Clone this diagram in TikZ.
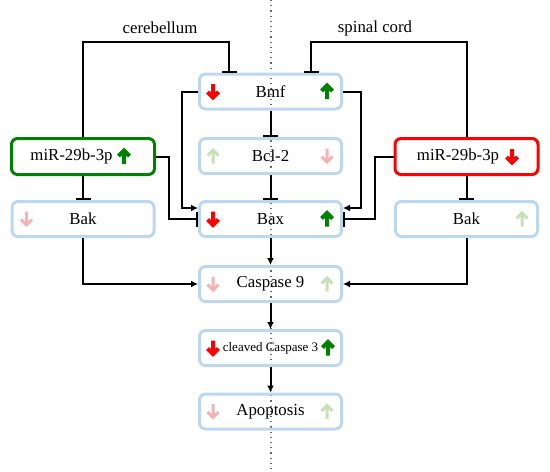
\documentclass[tikz,border=0pt]{standalone}
\usepackage{fontspec}
\setmainfont{Liberation Serif}
\usetikzlibrary{arrows.meta,calc}
\definecolor{BoxBlue}{RGB}{189,215,238}
\definecolor{UpGreen}{RGB}{0,128,0}
\definecolor{DownRed}{RGB}{255,0,0}
\definecolor{FaintGreen}{RGB}{200,224,184}
\definecolor{FaintRed}{RGB}{243,180,180}
\tikzset{
  protbox/.style={draw=BoxBlue,line width=1.5pt,rounded corners=3pt,minimum width=71pt,minimum height=17.5pt,inner sep=0pt},
  mirbox/.style={line width=1.5pt,rounded corners=3pt,minimum width=71.5pt,minimum height=18pt,inner sep=0pt},
  link/.style={line width=1pt,black},
  act/.style={link,-{Latex[length=3.5pt,width=3.5pt]}},
  inh/.style={link,-{Bar[width=7.5pt]}},
  uparr/.pic={\draw[pic actions] (0,7.5) -- (0,-5.5) (-5.5,-0.5) -- (0,-6) -- (5.5,-0.5);},
  dnarr/.pic={\draw[pic actions] (0,-7.5) -- (0,5.5) (-5.5,0.5) -- (0,6) -- (5.5,0.5);},
  hi/.style={draw=UpGreen,line width=2pt},
  lo/.style={draw=DownRed,line width=2pt},
  fainthi/.style={draw=FaintGreen,line width=1.5pt},
  faintlo/.style={draw=FaintRed,line width=1.5pt},
}
\begin{document}
\begin{tikzpicture}[x=0.5pt,y=-0.5pt,font=\fontsize{8.4}{10}\selectfont]
  \useasboundingbox (0,0) rectangle (550,471);
  \draw[dotted,black!60,line width=0.6pt] (271,0) -- (271,471);
  \node[protbox] (bmf) at (270.5,91.5) {Bmf};
  \node[protbox] (bcl) at (270.5,156) {Bcl-2};
  \node[protbox] (bax) at (270.5,219) {Bax};
  \node[protbox] (casp) at (270.5,284) {Caspase 9};
  \node[protbox,font=\fontsize{6.5}{8}\selectfont] (clv) at (270.5,348) {cleaved Caspase 3};
  \node[protbox] (apo) at (270.5,411.5) {Apoptosis};
  \node[mirbox,draw=UpGreen] (mirL) at (83,156.5) {miR-29b-3p\kern11.5pt};
  \node[protbox] (bakL) at (83,219) {Bak};
  \node[mirbox,draw=DownRed] (mirR) at (466.5,156.5) {miR-29b-3p\kern8.5pt};
  \node[protbox] (bakR) at (466.5,219) {Bak};
  \node (cer) at (160,28) {cerebellum};
  \node (spc) at (375,28) {spinal cord};
  \pic[lo] at ($(bmf.west)+(15,0)$) {dnarr};
  \pic[hi] at ($(bmf.east)+(-16,0)$) {uparr};
  \pic[fainthi] at ($(bcl.west)+(15,0)$) {uparr};
  \pic[faintlo] at ($(bcl.east)+(-16,0)$) {dnarr};
  \pic[lo] at ($(bax.west)+(15,0)$) {dnarr};
  \pic[hi] at ($(bax.east)+(-16,0)$) {uparr};
  \pic[faintlo] at ($(casp.west)+(15,0)$) {dnarr};
  \pic[fainthi] at ($(casp.east)+(-16,0)$) {uparr};
  \pic[lo] at ($(clv.west)+(15,0)$) {dnarr};
  \pic[hi] at ($(clv.east)+(-15,0)$) {uparr};
  \pic[faintlo] at ($(apo.west)+(15,0)$) {dnarr};
  \pic[fainthi] at ($(apo.east)+(-16,0)$) {uparr};
  \pic[hi] at ($(mirL.center)+(41,0)$) {uparr};
  \pic[lo] at ($(mirR.center)+(45.5,0)$) {dnarr};
  \pic[faintlo] at ($(bakL.west)+(16,0)$) {dnarr};
  \pic[fainthi] at ($(bakR.east)+(-17,0)$) {uparr};
  \draw[inh] (mirL.north) -- ++(0,-95) -| ([xshift=-20.75pt]bmf.north);
  \draw[inh] (mirR.north) -- ++(0,-95) -| ([xshift=20.25pt]bmf.north);
  \draw[inh] (bmf) -- (bcl);
  \draw[inh] (bcl) -- (bax);
  \draw[act] (bmf.west) -- ++(-16,0) |- ([yshift=5.5pt]bax.west);
  \draw[inh] (mirL.east) -- ++(13,0) |- (bax.west);
  \draw[act] (bmf.east) -- ++(18,0) |- ([yshift=5.5pt]bax.east);
  \draw[inh] (mirR.west) -- ++(-19,0) |- (bax.east);
  \draw[inh] (mirL) -- (bakL);
  \draw[inh] (mirR) -- (bakR);
  \draw[act] (bax) -- (casp);
  \draw[act] (bakL.south) |- (casp.west);
  \draw[act] (bakR.south) |- (casp.east);
  \draw[act] (casp) -- (clv);
  \draw[act] (clv) -- (apo);
\end{tikzpicture}
\end{document}
